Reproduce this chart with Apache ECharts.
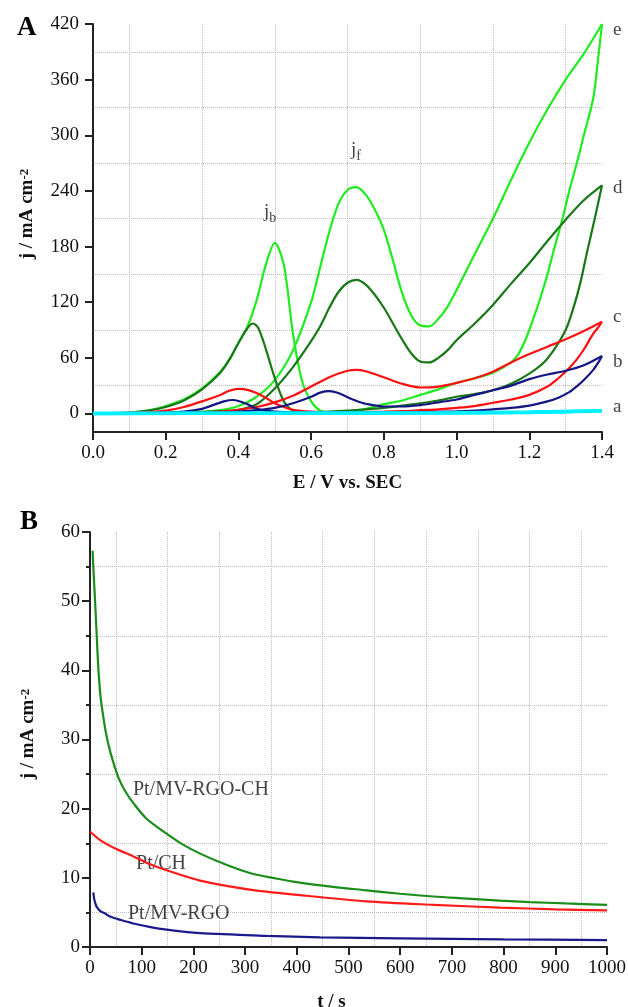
<!DOCTYPE html>
<html><head><meta charset="utf-8">
<script src="https://cdn.jsdelivr.net/npm/echarts@6/dist/echarts.min.js"></script>
<style>html,body{margin:0;padding:0;background:#fff}#c{width:628px;height:1007px}</style>
</head><body><div id="c"></div>
<script>
// ---------- Panel A: cyclic voltammograms (E / V, j / mA cm-2) ----------
const aForward = [[0,0],[0.5,0.3],[1.0,0.8],[1.2,1.5],[1.4,2.8]];
const aBackward = [[1.4,2.8],[1.2,1.0],[1.0,0.5],[0.5,0.2],[0,0]];

const bForward = [[0,0],[0.1,0.1],[0.2,0.2],[0.3,0.5],[0.35,1],[0.4,2],[0.45,3.5],[0.5,6],[0.55,11],[0.6,18],[0.625,22.5],[0.65,24],[0.675,22],[0.7,17.5],[0.725,13.5],[0.75,10.5],[0.8,7.5],[0.85,7.5],[0.9,9],[0.95,12],[1.0,15],[1.05,20],[1.1,25],[1.15,30],[1.2,37],[1.25,42],[1.3,46],[1.35,52],[1.4,62]];
const bBackward = [[1.4,62],[1.39,55],[1.376,47],[1.35,36],[1.33,29],[1.31,23],[1.28,17],[1.25,13],[1.2,8.5],[1.15,6],[1.1,4.5],[1.05,3],[1.0,2.2],[0.9,1.5],[0.8,1],[0.7,1],[0.6,1],[0.55,1.2],[0.5,2],[0.475,3],[0.45,5],[0.425,10],[0.4,13.5],[0.385,14.5],[0.36,13],[0.33,9],[0.3,5],[0.25,2],[0.2,1],[0.1,0.3],[0,0]];

const cForward = [[0,0],[0.1,0.2],[0.2,0.5],[0.3,1],[0.35,2],[0.4,4],[0.45,7],[0.5,12],[0.55,19],[0.6,29],[0.65,39],[0.7,46],[0.725,47],[0.75,45.5],[0.8,39],[0.85,32],[0.9,28],[0.95,29],[1.0,33],[1.05,38],[1.1,45],[1.15,55],[1.2,64],[1.25,72],[1.3,80],[1.35,89],[1.4,99]];
const cBackward = [[1.4,99],[1.39,93],[1.376,86],[1.35,69],[1.33,58],[1.31,49],[1.28,38],[1.25,29],[1.2,20],[1.15,15],[1.1,11.5],[1.05,8],[1.0,6],[0.95,4.5],[0.9,3.5],[0.85,2.5],[0.8,2],[0.75,1.7],[0.7,1.5],[0.65,1.5],[0.6,2],[0.55,4],[0.525,7],[0.5,11],[0.475,17],[0.45,22],[0.425,25.5],[0.4,26.5],[0.375,24.5],[0.35,20],[0.3,13],[0.25,7],[0.2,3],[0.15,1.5],[0.1,0.8],[0.05,0.3],[0,0]];

const dForward = [[0,0],[0.1,0.2],[0.2,0.5],[0.3,1.5],[0.35,2.5],[0.4,4],[0.45,10],[0.5,27],[0.55,50],[0.6,78],[0.625,94],[0.65,114],[0.675,131],[0.7,141],[0.725,144],[0.75,139],[0.775,128],[0.8,114],[0.825,97],[0.85,80],[0.875,65],[0.9,56],[0.925,55],[0.95,60],[0.975,68],[1.0,79],[1.05,97],[1.1,117],[1.15,140],[1.2,162],[1.25,186],[1.3,209],[1.35,230],[1.4,246]];
const dBackward = [[1.4,246],[1.38,210],[1.36,176],[1.34,140],[1.32,112],[1.3,90],[1.27,70],[1.24,55],[1.2,43],[1.15,32],[1.1,25],[1.05,21],[1.0,18],[0.95,14],[0.9,11],[0.85,8.5],[0.8,6],[0.75,4.5],[0.7,3],[0.65,2],[0.6,1.5],[0.575,1.8],[0.55,3],[0.525,13],[0.5,38],[0.475,70],[0.455,92],[0.44,97],[0.425,92],[0.4,76],[0.375,58],[0.35,44],[0.3,26],[0.25,14],[0.2,7],[0.15,3],[0.1,1],[0.05,0.3],[0,0]];

const eForward = [[0,0],[0.05,0.1],[0.1,0.3],[0.15,0.6],[0.2,1],[0.25,1.5],[0.3,2],[0.35,3.5],[0.4,8],[0.45,18],[0.5,36],[0.55,68],[0.6,120],[0.625,158],[0.65,196],[0.675,226],[0.7,241],[0.725,244],[0.75,236],[0.775,220],[0.8,198],[0.825,165],[0.85,130],[0.875,106],[0.9,95],[0.925,94],[0.95,102],[0.975,115],[1.0,133],[1.05,172],[1.1,210],[1.15,252],[1.2,292],[1.25,328],[1.3,360],[1.35,388],[1.4,420]];
const eBackward = [[1.4,420],[1.39,385],[1.376,340],[1.35,300],[1.33,269],[1.31,240],[1.29,208],[1.27,180],[1.25,150],[1.23,124],[1.21,101],[1.19,80],[1.17,64],[1.15,55],[1.1,44],[1.05,38],[1.0,33],[0.95,26],[0.9,20],[0.85,14],[0.8,10],[0.75,5],[0.7,2.5],[0.65,1.5],[0.625,3],[0.6,13],[0.575,35],[0.55,86],[0.525,160],[0.5,184],[0.475,160],[0.45,122],[0.425,94],[0.4,76],[0.375,58],[0.35,45],[0.3,27],[0.25,15],[0.2,8],[0.15,3],[0.1,1],[0.05,0.3],[0,0]];

const yTicksA = [0,60,120,180,240,300,360,420];
const yGridA = [30,90,150,210,270,330,390];

const curveLabelNames = ['a','b','c','d','e'];
const curveLabelE = [1.4,1.4,1.4,1.4,1.4];
const curveLabelJ = [7,56,104,243,414];
const peakLabelSubs = ['b','f'];
const peakLabelE = [0.487,0.723];
const peakLabelJ = [217,284];

// ---------- Panel B: chronoamperometry (t / s, j / mA cm-2) ----------
const mvRgoChT = [5,7,9.7,13,16,20,25.7,32,40,55,70,84,110,148,180,213,260,309,360,406,470,535,600,664,730,793,850,920,1000];
const mvRgoChJ = [57.3,54,50.2,45,40.5,36.5,33.3,30.5,28,24.5,22.3,20.8,18.5,16.4,14.8,13.5,12,10.7,9.9,9.3,8.7,8.2,7.7,7.3,7.0,6.7,6.5,6.3,6.1];
const chT = [0,19,50,84,115,148,213,309,406,535,664,793,900,1000];
const chJ = [16.7,15.5,14.2,13.1,12.0,11.1,9.6,8.3,7.5,6.6,6.1,5.7,5.45,5.3];
const mvRgoT = [6.4,8,10,13,20,30,38.7,60,84,115,148,213,280,342,445,600,800,1000];
const mvRgoJ = [7.9,7.0,6.4,5.8,5.2,4.8,4.4,3.9,3.4,2.9,2.5,2.0,1.8,1.6,1.4,1.25,1.1,1.0];

const legendNames = ['Pt/MV-RGO-CH','Pt/CH','Pt/MV-RGO'];
const legendT = [83,89,73.5];
const legendJ = [22.8,12.1,4.8];

// ---------- styling ----------
const FONT = 'Liberation Serif';
const INK = '#111';
const GRID = {type:'dotted', color:'#bdbdbd', width:1};

const colA = {a:'#00f0ff', b:'#151585', c:'#ff1010', d:'#187818', e:'#1fec1f'};
const colB = ['#1a8c1a','#ff1a1a','#1a1a8c'];

function zip(t, j){ return t.map((v,i)=>[v,j[i]]); }

function axisBase(){
  return {
    axisLine:{onZero:false, lineStyle:{color:'#222', width:2}},
    axisTick:{length:8, lineStyle:{color:'#222', width:2}},
    axisLabel:{fontFamily:FONT, fontSize:19, color:INK},
    splitLine:{show:false}
  };
}
const nameStyle = {fontFamily:FONT, fontSize:19, fontWeight:'bold', color:INK};
const supRich = {sup:{fontFamily:FONT, fontSize:13, fontWeight:'bold', color:INK, verticalAlign:'top', lineHeight:12}};

const series = [];
function cv(data, color, width){
  series.push({type:'line', xAxisIndex:0, yAxisIndex:0, data:data, showSymbol:false, smooth:0.3,
    lineStyle:{color:color, width:width||2.2}, itemStyle:{color:color}, silent:true});
}
cv(eForward, colA.e); cv(eBackward, colA.e);
cv(dForward, colA.d); cv(dBackward, colA.d);
cv(cForward, colA.c); cv(cBackward, colA.c);
cv(bForward, colA.b); cv(bBackward, colA.b);
cv(aForward, colA.a, 3.5); cv(aBackward, colA.a, 3.5);

series.push({type:'scatter', xAxisIndex:0, yAxisIndex:0, symbolSize:0, silent:true,
  data: curveLabelNames.map((n,i)=>({name:n, value:[curveLabelE[i], curveLabelJ[i]]})),
  label:{show:true, position:'right', distance:11, formatter:'{b}', fontFamily:FONT, fontSize:19, color:INK}});
series.push({type:'scatter', xAxisIndex:0, yAxisIndex:0, symbolSize:0, silent:true,
  data: peakLabelSubs.map((n,i)=>({name:n, value:[peakLabelE[i], peakLabelJ[i]]})),
  label:{show:true, position:'inside', formatter: p => '{m|j}{s|' + p.name + '}',
    rich:{m:{fontFamily:FONT, fontSize:19, color:INK, lineHeight:26, verticalAlign:'middle'},
          s:{fontFamily:FONT, fontSize:14, color:INK, lineHeight:14, verticalAlign:'bottom'}}}});

series.push({type:'line', xAxisIndex:1, yAxisIndex:2, data:zip(mvRgoChT,mvRgoChJ), showSymbol:false, smooth:0.3, lineStyle:{color:colB[0], width:2.2}, silent:true});
series.push({type:'line', xAxisIndex:1, yAxisIndex:2, data:zip(chT,chJ), showSymbol:false, smooth:0.3, lineStyle:{color:colB[1], width:2.2}, silent:true});
series.push({type:'line', xAxisIndex:1, yAxisIndex:2, data:zip(mvRgoT,mvRgoJ), showSymbol:false, smooth:0.3, lineStyle:{color:colB[2], width:2.2}, silent:true});
series.push({type:'scatter', xAxisIndex:1, yAxisIndex:2, symbolSize:0, silent:true,
  data: legendNames.map((n,i)=>({name:n, value:[legendT[i], legendJ[i]]})),
  label:{show:true, position:'right', distance:0, formatter:'{b}', fontFamily:FONT, fontSize:20, color:INK}});

const option = {
  animation:false,
  backgroundColor:'#fff',
  title:[
    {text:'A', left:17, top:15, padding:0, textStyle:{fontFamily:FONT, fontSize:27, fontWeight:'bold', color:'#000'}},
    {text:'B', left:20, top:509, padding:0, textStyle:{fontFamily:FONT, fontSize:27, fontWeight:'bold', color:'#000'}}
  ],
  grid:[
    {left:93, top:24, width:509, height:408, containLabel:false, outerBoundsMode:'none'},
    {left:90, top:532, width:517, height:415, containLabel:false, outerBoundsMode:'none'}
  ],
  xAxis:[
    Object.assign(axisBase(), {gridIndex:0, type:'value', min:0, max:1.4, interval:0.2,
      axisLabel:{fontFamily:FONT, fontSize:19, color:INK, margin:12, formatter:v=>v.toFixed(1)},
      minorTick:{show:false, splitNumber:2}, minorSplitLine:{show:true, lineStyle:GRID},
      name:'E / V vs. SEC', nameLocation:'middle', nameGap:42, nameTextStyle:nameStyle}),
    Object.assign(axisBase(), {gridIndex:1, type:'value', min:0, max:1000, interval:100,
      axisLabel:{fontFamily:FONT, fontSize:19, color:INK, margin:12, formatter:v=>String(v)},
      minorTick:{show:false, splitNumber:2}, minorSplitLine:{show:true, lineStyle:GRID},
      name:'t / s', nameLocation:'middle', nameGap:46, nameTextStyle:Object.assign({padding:[0,34,0,0]}, nameStyle)})
  ],
  yAxis:[
    Object.assign(axisBase(), {gridIndex:0, type:'value', min:-20, max:420, interval:60, position:'left',
      axisTick:{length:8, lineStyle:{color:'#222', width:2}, customValues:yTicksA},
      axisLabel:{fontFamily:FONT, fontSize:19, color:INK, margin:14, customValues:yTicksA},
      name:'j / mA cm{sup|-2}', nameLocation:'middle', nameGap:56,
      nameTextStyle:Object.assign({padding:[0,0,0,28], rich:supRich}, nameStyle)}),
    {gridIndex:0, type:'value', min:-20, max:420, position:'left',
      axisLine:{show:false}, axisLabel:{show:false},
      axisTick:{show:false, customValues:yGridA},
      splitLine:{show:true, lineStyle:GRID}},
    Object.assign(axisBase(), {gridIndex:1, type:'value', min:0, max:60, interval:10,
      axisLabel:{fontFamily:FONT, fontSize:19, color:INK, margin:10},
      minorTick:{show:true, splitNumber:2, length:4, lineStyle:{color:'#222', width:2}},
      minorSplitLine:{show:true, lineStyle:GRID},
      name:'j / mA cm{sup|-2}', nameLocation:'middle', nameGap:52,
      nameTextStyle:Object.assign({padding:[0,0,0,11], rich:supRich}, nameStyle)})
  ],
  series:series
};
const chart = echarts.init(document.getElementById('c'), null, {renderer:'canvas'});
chart.setOption(option);
</script>
</body></html>
